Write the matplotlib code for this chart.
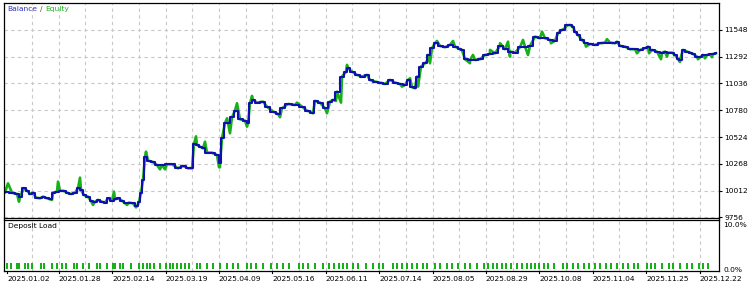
import matplotlib
matplotlib.use("Agg")
import matplotlib.pyplot as plt
import numpy as np

plt.rcParams['font.family'] = ['DejaVu Sans']

# balance curve: (trade number, balance)
trade = [0, 7, 12, 15, 19, 22, 25, 28, 31, 35, 38, 42, 45, 48, 52, 55, 59, 62, 66, 70,
         73, 76, 79, 83, 86, 90, 93, 97, 100, 103, 107, 110, 113, 117, 120, 124, 128, 132, 134, 136,
         138, 140, 143, 148, 152, 157, 162, 167, 173, 178, 183, 187, 189, 192, 195, 198, 202, 207, 212, 215,
         217, 220, 223, 227, 230, 235, 240, 243, 245, 248, 252, 258, 262, 268, 273, 277, 283, 290, 297, 302,
         307, 310, 315, 320, 325, 328, 332, 337, 341, 343, 347, 352, 357, 362, 365, 370, 375, 380, 385, 390,
         395, 400, 403, 407, 410, 412, 416, 420, 423, 427, 430, 435, 440, 445, 450, 455, 457, 460, 465, 470,
         475, 480, 485, 490, 495, 500, 505, 510, 515, 520, 525, 530, 535, 540, 545, 550, 553, 557, 562, 565,
         568, 570, 573, 577, 580, 585, 590, 595, 600, 605, 610, 612, 615, 620, 625, 630, 635, 640, 643, 647,
         652, 657, 660, 663, 667, 670, 673, 675, 678, 682, 685, 688, 692, 695, 698, 702, 705, 708, 711]
balance = [9995, 9991, 9979, 9953, 10034, 10011, 9979, 9991, 9944, 9938, 9953, 9938, 9928, 9991, 10001, 10011, 10008, 9991, 9979, 9991,
           10034, 10017, 9969, 9953, 9912, 9905, 9922, 9905, 9896, 9938, 9915, 9928, 9938, 9915, 9890, 9896, 9890, 9864, 9905, 9989,
           10113, 10330, 10298, 10285, 10256, 10256, 10263, 10263, 10225, 10247, 10225, 10225, 10457, 10448, 10432, 10416, 10374, 10374, 10352, 10273,
           10512, 10656, 10661, 10713, 10776, 10694, 10680, 10656, 10847, 10879, 10853, 10862, 10814, 10767, 10745, 10799, 10840, 10831, 10814, 10776,
           10757, 10869, 10853, 10799, 10862, 10879, 10958, 11102, 11149, 11182, 11149, 11118, 11102, 11118, 11070, 11054, 11044, 11032, 11070, 11044,
           11032, 11022, 11070, 11000, 10991, 11102, 11197, 11230, 11309, 11373, 11421, 11395, 11383, 11405, 11389, 11364, 11357, 11268, 11261, 11261,
           11268, 11309, 11319, 11325, 11395, 11364, 11341, 11331, 11383, 11389, 11395, 11484, 11469, 11469, 11453, 11446, 11517, 11548, 11592, 11596,
           11580, 11532, 11501, 11453, 11421, 11414, 11405, 11421, 11427, 11427, 11421, 11436, 11395, 11389, 11364, 11364, 11357, 11373, 11389, 11357,
           11341, 11331, 11341, 11331, 11331, 11309, 11268, 11261, 11357, 11341, 11331, 11319, 11293, 11287, 11309, 11309, 11316, 11319, 11325]

# floating equity swings between closed trades
swing_trade = [3, 14, 47, 53, 75, 88, 109, 122, 131, 141, 155, 160, 191, 200, 214, 215, 222, 225, 232, 242,
               247, 275, 292, 305, 308, 322, 331, 336, 342, 397, 405, 413, 423, 425, 432, 448, 465, 468, 485, 495,
               503, 505, 518, 523, 537, 546, 560, 581, 602, 632, 644, 656, 662, 675, 693, 700, 707]
swing_equity = [10081, 9905, 9922, 10097, 10135, 9874, 10001, 9874, 9851, 10384, 10215, 10215, 10530, 10479, 10235, 10235, 10703, 10560, 10847, 10623,
                10917, 10713, 10853, 10767, 10751, 10751, 10869, 10853, 11214, 11006, 11086, 11006, 11261, 11230, 11443, 11443, 11230, 11309, 11357, 11421,
                11436, 11293, 11453, 11309, 11532, 11421, 11565, 11389, 11460, 11325, 11325, 11268, 11293, 11242, 11268, 11277, 11287]

# deposit load, percent
load_trade = [2, 6, 12, 14, 20, 23, 27, 36, 39, 47, 52, 57, 61, 69, 72, 78, 84, 92, 95, 102,
              108, 110, 115, 118, 126, 134, 138, 142, 145, 149, 155, 161, 165, 168, 172, 176, 180, 184, 192, 195,
              202, 208, 215, 222, 228, 233, 242, 246, 251, 258, 266, 272, 278, 284, 294, 298, 303, 310, 318, 324,
              329, 334, 338, 342, 348, 353, 361, 368, 374, 378, 388, 392, 397, 402, 407, 412, 418, 422, 430, 435,
              442, 447, 453, 460, 465, 472, 479, 483, 488, 492, 497, 501, 506, 512, 517, 522, 526, 530, 534, 539,
              543, 549, 558, 562, 568, 573, 579, 584, 590, 595, 601, 606, 612, 618, 623, 629, 633, 642, 646, 650,
              657, 664, 668, 675, 682, 687, 694, 698, 703]
load = [1.3] * len(load_trade)

date_labels = ['2025.01.02', '2025.01.28', '2025.02.14', '2025.03.19', '2025.04.09', '2025.05.16', '2025.06.11',
               '2025.07.14', '2025.08.05', '2025.08.29', '2025.10.08', '2025.11.04', '2025.11.25', '2025.12.22']
value_ticks = [9756, 10012, 10268, 10524, 10780, 11036, 11292, 11548]

# equity = balance plus the floating swings in between
eq = sorted(zip(trade + swing_trade, balance + swing_equity))
eq_x = [p[0] for p in eq]
eq_y = [p[1] for p in eq]

grid_step = 26.7
grid_x = np.arange(27, 714, grid_step)
label_x = [2] + list(grid_x[1::2])

fig = plt.figure(figsize=(7.5, 2.85), dpi=100)
ax = fig.add_axes([4 / 750, 67.5 / 285, 715 / 750, 214.5 / 285])
ax2 = fig.add_axes([4 / 750, 14.5 / 285, 715 / 750, 51 / 285])

ax.plot(eq_x, eq_y, color='#18B018', lw=1.9)
ax.plot(trade, balance, color='#1010B0', lw=1.5, drawstyle='steps-mid')
ax.set_xlim(-1, 714)
ax.set_ylim(9754, 11806)
ax.set_yticks(value_ticks)
ax.set_yticklabels([str(v) for v in value_ticks])
ax.yaxis.tick_right()
ax.set_xticks(grid_x)
ax.set_xticklabels([])
ax.tick_params(axis='x', length=0)
ax.tick_params(axis='y', length=2.5, width=0.8, pad=1.5, labelsize=5.4, colors='black')
ax.grid(True, color='#C8C8C8', ls=(0, (3, 3)), lw=0.8)
ax.set_axisbelow(True)
for s in ax.spines.values():
    s.set_color('black')
    s.set_linewidth(0.9)

ax.text(0.005, 0.985, 'Balance', color='#3030C0', fontsize=5.4, transform=ax.transAxes, va='top', ha='left')
ax.text(0.05, 0.985, '/', color='#505050', fontsize=5.4, transform=ax.transAxes, va='top', ha='left')
ax.text(0.057, 0.985, 'Equity', color='#20B020', fontsize=5.4, transform=ax.transAxes, va='top', ha='left')

ax2.bar(load_trade, load, width=1.4, color='#18B018', align='center')
ax2.set_xlim(-1, 714)
ax2.set_ylim(-0.3, 11.0)
ax2.set_yticks([10, 0])
ax2.set_yticklabels(['10.0%', '0.0%'])
ax2.yaxis.tick_right()
ax2.tick_params(axis='y', length=0, pad=3, labelsize=5.4)
ax2.set_xticks(grid_x)
ax2.set_xticklabels([])
ax2.tick_params(axis='x', length=0)
ax2.grid(True, axis='x', color='#C8C8C8', ls=(0, (3, 3)), lw=0.8)
ax2.set_axisbelow(True)
for s in ax2.spines.values():
    s.set_color('black')
    s.set_linewidth(0.9)
ax2.text(0.005, 0.94, 'Deposit Load', color='black', fontsize=5.4, transform=ax2.transAxes, va='top', ha='left')

for lx, lab in zip(label_x, date_labels):
    ax2.text(lx, -0.1, lab, transform=ax2.get_xaxis_transform(), fontsize=5.4,
             ha='left', va='top')
    ax2.plot([lx, lx], [0, -0.04], transform=ax2.get_xaxis_transform(), color='black', lw=0.8, clip_on=False)

fig.savefig('out.png', dpi=100)
